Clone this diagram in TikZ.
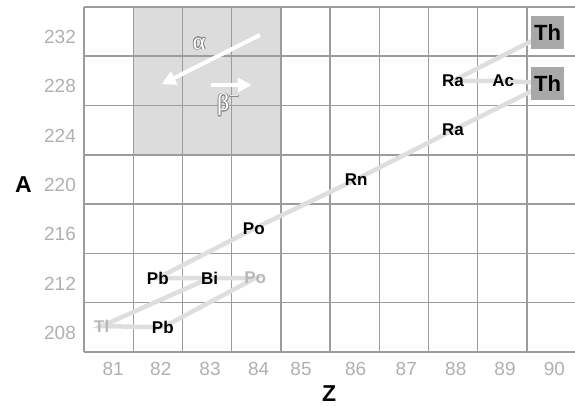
\documentclass[tikz,border=0pt]{standalone}
\usepackage{fontspec}
\setmainfont{Liberation Sans}
\newfontfamily\greekfont{Liberation Serif}
\usepackage{contour}
\contourlength{0.75pt}
\usetikzlibrary{arrows.meta}
\definecolor{gridgray}{HTML}{9C9C9C}
\definecolor{shadegray}{HTML}{DCDCDC}
\definecolor{chaingray}{HTML}{DEDEDE}
\definecolor{ticktext}{HTML}{B0B0B0}
\definecolor{boxgray}{HTML}{A8A8A8}
\definecolor{fadedtext}{HTML}{B8B8B8}
\definecolor{greekedge}{HTML}{8A8A8A}
\pgfdeclarelayer{gridlayer}
\pgfdeclarelayer{chainlayer}
\pgfsetlayers{gridlayer,chainlayer,main}
\tikzstyle{gridline} = [draw=gridgray, line width=1.5pt]
\tikzstyle{chain} = [draw=chaingray, line width=4.5pt]
\tikzstyle{nuclide} = [inner sep=0pt, font=\fontsize{17}{17}\selectfont\bfseries]
\tikzstyle{faded} = [nuclide, text=fadedtext]
\tikzstyle{thbox} = [inner sep=1pt, fill=boxgray, minimum width=33pt, minimum height=33pt, font=\fontsize{22}{22}\selectfont\bfseries]
\tikzstyle{tick} = [inner sep=0pt, text=ticktext, font=\fontsize{19}{19}\selectfont]
\tikzstyle{axislabel} = [inner sep=0pt, font=\fontsize{23}{23}\selectfont\bfseries]
\tikzstyle{greek} = [inner sep=0pt, font=\fontsize{24}{24}\selectfont\greekfont]
\tikzstyle{decay} = [white, line width=4pt, -{Triangle[length=14pt,width=14pt]}]

\begin{document}
\begin{tikzpicture}[x=49.2pt, y=12.325pt]
    \useasboundingbox (78.7927,201.62) rectangle (90.4797,234.56);

    % Background
    \begin{pgfonlayer}{gridlayer}
    \fill[shadegray] (81.5,222) rectangle (84.5,234);
    \foreach \z in {80.5,81.5,...,90.5}
        \draw[gridline] (\z,206) -- (\z,234);
    \foreach \a in {206,210,...,234}
        \draw[gridline] (80.5,\a) -- (90.5,\a);
    \end{pgfonlayer}

    % Axes
    \foreach \a in {208,212,...,232}
        \node[tick, anchor=east] at (80.337,\a-0.45) {\a};
    \foreach \z/\x in {81/81.09,82/82.06,83/83.06,84/84.05,85/84.91,86/86.02,87/87.05,88/88.055,89/89.057,90/90.06}
        \node[tick] at (\x,204.64) {\z};
    \node (alabel) [axislabel] at (79.27,219.55) {A};
    \node (zlabel) [axislabel] at (85.484,202.65) {Z};

    % Nodes
    \node (th232) [thbox] at (89.92,231.88) {Th};
    \node (th228) [thbox] at (89.92,227.8) {Th};
    \node (ra228) [nuclide] at (88,228) {Ra};
    \node (ac228) [nuclide] at (89.02,228) {Ac};
    \node (ra224) [nuclide] at (88,224) {Ra};
    \node (rn220) [nuclide] at (86.03,220) {Rn};
    \node (po216) [nuclide] at (83.95,216) {Po};
    \node (pb212) [nuclide] at (82,212) {Pb};
    \node (bi212) [nuclide] at (83.05,212) {Bi};
    \node (po212) [faded] at (83.98,212) {Po};
    \node (tl208) [faded] at (80.86,208.1) {Tl};
    \node (pb208) [nuclide] at (82.1,208) {Pb};

    % Chain
    \begin{pgfonlayer}{chainlayer}
    \draw[chain] (th232.center) -- (ra228.center) -- (ac228.center) -- (th228.center);
    \draw[chain] (th228.center) -- (ra224.center) -- (rn220.center) -- (po216.center) -- (pb212.center) -- (bi212.center) -- (po212.center) -- (pb208.center);
    \draw[chain] (bi212.center) -- (tl208.center) -- (pb208.center);
    \end{pgfonlayer}

    % Arrows
    \coordinate (alphastart) at (84.077,231.72);
    \coordinate (alphaend) at (82.079,227.72);
    \coordinate (betastart) at (83.075,227.66);
    \coordinate (betaend) at (83.909,227.66);
    \draw[decay] (alphastart) -- (alphaend);
    \draw[decay] (betastart) -- (betaend);
    \node (alpha) [greek] at (82.84,231.0) {\contour{greekedge}{\textcolor{white}{α}}};
    \node (beta) [greek] at (83.43,226.0) {\contour{greekedge}{\textcolor{white}{β\textsuperscript{−}}}};
\end{tikzpicture}
\end{document}
